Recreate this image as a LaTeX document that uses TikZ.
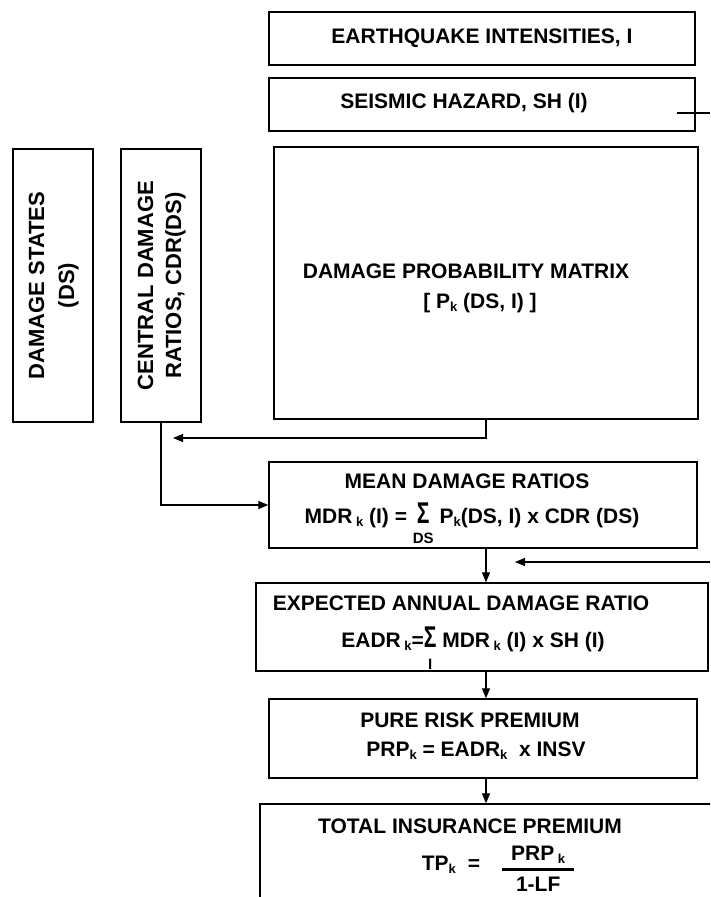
\documentclass[tikz,border=0pt]{standalone}
\usepackage{fontspec}
\setmainfont{Liberation Sans}
\usetikzlibrary{arrows.meta}
\newcommand{\ksub}{\raisebox{-3.5pt}{\fontsize{13}{13}\selectfont k}}
\newcommand{\sumop}[2][-8pt]{\begin{tabular}[t]{@{}c@{}}\scalebox{.7}[1]{\fontsize{30}{30}\selectfont Σ}\\[#1]{\fontsize{15}{15}\selectfont #2}\end{tabular}}
\newcommand{\fracbox}[2]{\raisebox{10pt}{\setlength{\arrayrulewidth}{3pt}\begin{tabular}[t]{@{\hspace{9pt}}c@{\hspace{9pt}}}#1\\\hline #2\end{tabular}}}
\tikzset{
  box/.style={draw,line width=1.4pt,inner sep=0pt,align=center},
  lbl/.style={anchor=base,inner sep=0pt},
  vtxt/.style={font=\fontsize{22}{30}\selectfont\bfseries},
}
\begin{document}
\begin{tikzpicture}[x=1pt,y=-1pt,line width=1.2pt,font=\fontsize{21}{28}\selectfont\bfseries,>={Triangle[length=10pt,width=8pt]}]
\useasboundingbox[fill=white] (0,0) rectangle (710,897);
\clip (0,0) rectangle (710,897);
% boxes
\node[box,minimum width=426pt,minimum height=53pt] at (482,38.5)(eq){EARTHQUAKE INTENSITIES, I};
\node[box,minimum width=426pt,minimum height=53pt] at (482,104.5)(sh){};
\node[box,vtxt,minimum width=80pt,minimum height=273pt] at (53,285.5)(ds){\rotatebox{90}{\begin{tabular}{@{}c@{}}DAMAGE STATES\\(DS)\end{tabular}}};
\node[box,vtxt,minimum width=80pt,minimum height=273pt] at (161,285.5)(cdr){\rotatebox{90}{\begin{tabular}{@{}c@{}}CENTRAL DAMAGE\\[-2pt]RATIOS, CDR(DS)\end{tabular}}};
\node[box,minimum width=424pt,minimum height=272pt] at (486,283)(dpm){};
\node[box,minimum width=428pt,minimum height=86pt] at (483,505)(mdr){};
\node[box,minimum width=452pt,minimum height=88pt] at (482,627)(eadr){};
\node[box,minimum width=428pt,minimum height=79pt] at (483,738.5)(prp){};
\node[box,minimum width=500pt,minimum height=146pt] at (510,877)(tip){};
% texts
\node[lbl] at (464,108)(sht){SEISMIC HAZARD, SH (I)};
\node[lbl] at (466,278)(dpmt){DAMAGE PROBABILITY MATRIX};
\node[lbl] at (480,308)(dpmf){[ P\ksub\ (DS, I) ]};
\node[lbl] at (467,488)(mdrt){MEAN DAMAGE RATIOS};
\node[lbl] at (472,523)(mdrf){MDR\,\ksub\ (I) = \sumop{DS} P\ksub(DS, I) x CDR (DS)};
\node[lbl] at (461,610)(eadrt){EXPECTED ANNUAL DAMAGE RATIO};
\node[lbl] at (473,647)(eadrf){EADR\,\ksub=\sumop[-6pt]{I} MDR\,\ksub\ (I) x SH (I)};
\node[lbl] at (470,727)(prpt){PURE RISK PREMIUM};
\node[lbl] at (476,756)(prpf){PRP\ksub\ = EADR\ksub\ \ x INSV};
\node[lbl] at (470,833)(tipt){TOTAL INSURANCE PREMIUM};
\node[lbl] at (498,870)(tipf){TP\ksub\hspace{12pt}=\hspace{22pt}\fracbox{PRP\,\ksub}{1-LF}};
% loose ends at the right edge
\coordinate (shA) at (677,113);
\coordinate (shB) at (710,113);
\coordinate (rtA) at (710,562);
\coordinate (rtB) at (515,562);
\coordinate (cdrin) at (173,438);
% connectors
\path[draw] (shA) -- (shB);
\path[draw,->] (rtA) -- (rtB);
\path[draw,->] (dpm.south) |- (cdrin);
\path[draw,->] (cdr.south) |- (mdr.west);
\path[draw,->] (mdr.south -| dpm.south) -- (eadr.north -| dpm.south);
\path[draw,->] (eadr.south -| dpm.south) -- (prp.north -| dpm.south);
\path[draw,->] (prp.south -| dpm.south) -- (tip.north -| dpm.south);
\end{tikzpicture}
\end{document}
